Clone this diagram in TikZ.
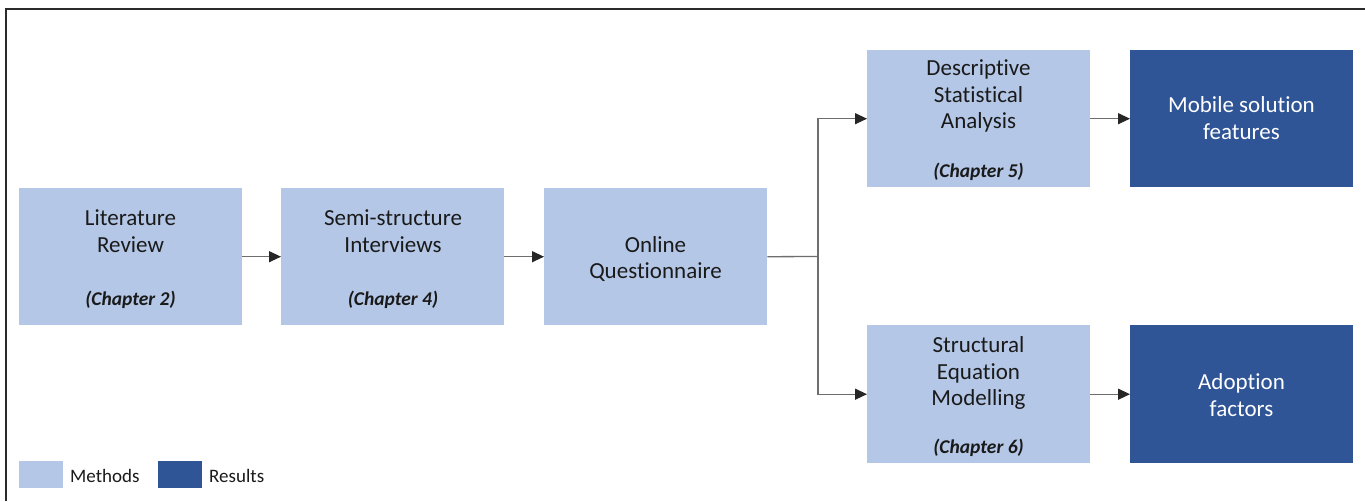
\documentclass[tikz,border=0pt]{standalone}
\usepackage{fontspec}
\setmainfont{Carlito}[Ligatures=NoCommon]
\usetikzlibrary{arrows.meta}
\definecolor{meth}{HTML}{B4C7E7}
\definecolor{res}{HTML}{2F5597}
\definecolor{txt}{HTML}{1A1A1A}
\definecolor{connc}{HTML}{6E6E6E}
\definecolor{framec}{HTML}{2B2B2B}
\begin{document}
\begin{tikzpicture}[x=1pt,y=-1pt,
  box/.style={draw=none, minimum width=223pt, minimum height=137pt, inner sep=0pt, anchor=north west},
  method/.style={box, fill=meth},
  result/.style={box, fill=res},
  lbl/.style={align=center, font=\fontsize{23}{26.5}\selectfont, text=txt, inner sep=0pt},
  rlbl/.style={lbl, text=white},
  chap/.style={anchor=base, font=\fontsize{19.5}{23}\selectfont\bfseries\itshape, text=txt, inner sep=0pt},
  legtxt/.style={anchor=base west, font=\fontsize{19}{23}\selectfont, text=txt, inner sep=0pt},
  legbox/.style={draw=none, minimum width=44pt, minimum height=27pt, inner sep=0pt, anchor=north west},
  conn/.style={draw=connc, line width=1.3pt},
  arr/.style={conn, -{Triangle[length=12pt,width=11pt,color=black!85]}}
]
\useasboundingbox (0,0) rectangle (1365,501);
\fill[white] (0,0) rectangle (1365,501);
\draw[framec, line width=2pt] (6,501) -- (6,9) -- (1365,9);

% boxes
\node[method] (lit) at (19,188) {};
\node[method] (semi) at (281,188) {};
\node[method] (onl) at (544,188) {};
\node[method] (desc) at (867,50) {};
\node[method, minimum height=138pt] (sem) at (867,325) {};
\node[result] (mob) at (1130,50) {};
\node[result, minimum height=138pt] (ado) at (1130,325) {};

% labels
\node[lbl] (litT) at (130.5,231) {Literature\\Review};
\node[chap] (litC) at (130.5,305) {(Chapter 2)};
\node[lbl] (semiT) at (393,231) {Semi-structure\\Interviews};
\node[chap] (semiC) at (393,305) {(Chapter 4)};
\node[lbl] (onlT) at (655.5,259) {Online\\Questionnaire};
\node[lbl] (descT) at (978.5,96) {Descriptive\\Statistical\\Analysis};
\node[chap] (descC) at (978.5,177) {(Chapter 5)};
\node[lbl] (semT) at (978.5,373) {Structural\\Equation\\Modelling};
\node[chap] (semC) at (978.5,453) {(Chapter 6)};
\node[rlbl] (mobT) at (1241.5,118) {Mobile solution\\features};
\node[rlbl] (adoT) at (1241.5,395) {Adoption\\factors};

% connectors
\coordinate (j) at (818,256.5);
\draw[arr] (lit) -- (semi);
\draw[arr] (semi) -- (onl);
\draw[conn] (onl.east) -- (j);
\draw[arr] (j) |- (desc.west);
\draw[arr] (j) |- (sem.west);
\draw[arr] (desc) -- (mob);
\draw[arr] (sem) -- (ado);

% legend
\node[legbox, fill=meth] (lm) at (19,461) {};
\node[legtxt] (lmT) at (70,482) {Methods};
\node[legbox, fill=res] (lr) at (158,461) {};
\node[legtxt] (lrT) at (209,482) {Results};
\end{tikzpicture}
\end{document}
